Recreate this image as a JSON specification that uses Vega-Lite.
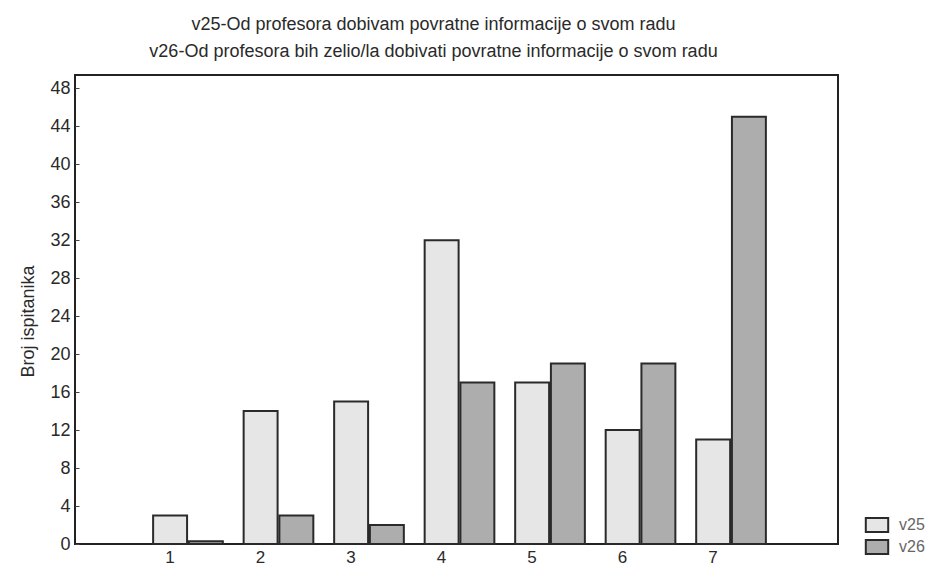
{
  "$schema": "https://vega.github.io/schema/vega-lite/v6.json",
  "width": 763,
  "height": 469,
  "autosize": "none",
  "padding": {"left": 75, "top": 75, "right": 105, "bottom": 24},
  "background": "white",
  "title": {
    "text": ["v25-Od profesora dobivam povratne informacije o svom radu", "v26-Od profesora bih zelio/la dobivati povratne informacije o svom radu"],
    "fontSize": 18, "font": "Liberation Sans", "fontWeight": "normal", "color": "#2a2a2a",
    "lineHeight": 27, "offset": 14, "dx": -23, "anchor": "middle"
  },
  "data": {"values": [
    {"cat": "1", "series": "v25", "value": 3},
    {"cat": "1", "series": "v26", "value": 0.3},
    {"cat": "2", "series": "v25", "value": 14},
    {"cat": "2", "series": "v26", "value": 3},
    {"cat": "3", "series": "v25", "value": 15},
    {"cat": "3", "series": "v26", "value": 2},
    {"cat": "4", "series": "v25", "value": 32},
    {"cat": "4", "series": "v26", "value": 17},
    {"cat": "5", "series": "v25", "value": 17},
    {"cat": "5", "series": "v26", "value": 19},
    {"cat": "6", "series": "v25", "value": 12},
    {"cat": "6", "series": "v26", "value": 19},
    {"cat": "7", "series": "v25", "value": 11},
    {"cat": "7", "series": "v26", "value": 45}
  ]},
  "mark": {"type": "bar", "stroke": "#2a2a2a", "strokeWidth": 2},
  "encoding": {
    "x": {
      "field": "cat", "type": "nominal",
      "scale": {"paddingInner": 0.23, "paddingOuter": 0.83, "align": 0.52},
      "axis": {"title": null, "labelAngle": 0, "ticks": false, "domain": false, "labelOffset": -18, "labelPadding": 5, "labelFontSize": 17, "labelFont": "Liberation Sans", "labelColor": "#2a2a2a"}
    },
    "xOffset": {"field": "series", "type": "nominal", "scale": {"paddingInner": 0.05}},
    "y": {
      "field": "value", "type": "quantitative",
      "scale": {"domain": [0, 49.4], "nice": false, "zero": true},
      "axis": {"title": "Broj ispitanika", "values": [0,4,8,12,16,20,24,28,32,36,40,44,48], "grid": false, "ticks": true, "tickSize": -4, "tickColor": "#444", "domain": false, "labelPadding": 9, "labelFontSize": 18, "labelFont": "Liberation Sans", "labelColor": "#2a2a2a", "titleFontSize": 18, "titleFont": "Liberation Sans", "titleFontWeight": "normal", "titleColor": "#2a2a2a", "titlePadding": 12, "titleY": 246}
    },
    "fill": {
      "field": "series", "type": "nominal",
      "scale": {"domain": ["v25", "v26"], "range": ["#e6e6e6", "#adadad"]},
      "legend": {
        "title": null, "orient": "none", "legendX": 794, "legendY": 442, "padding": 0,
        "symbolType": "M-1.6,-1H1.6V1H-1.6Z", "symbolSize": 196, "symbolStrokeColor": "#2a2a2a", "symbolStrokeWidth": 2,
        "rowPadding": 0, "labelOffset": 14, "labelFontSize": 16, "labelFont": "Liberation Sans", "labelColor": "#666"
      }
    }
  },
  "config": {
    "view": {"stroke": "#222", "strokeWidth": 2}
  }
}
